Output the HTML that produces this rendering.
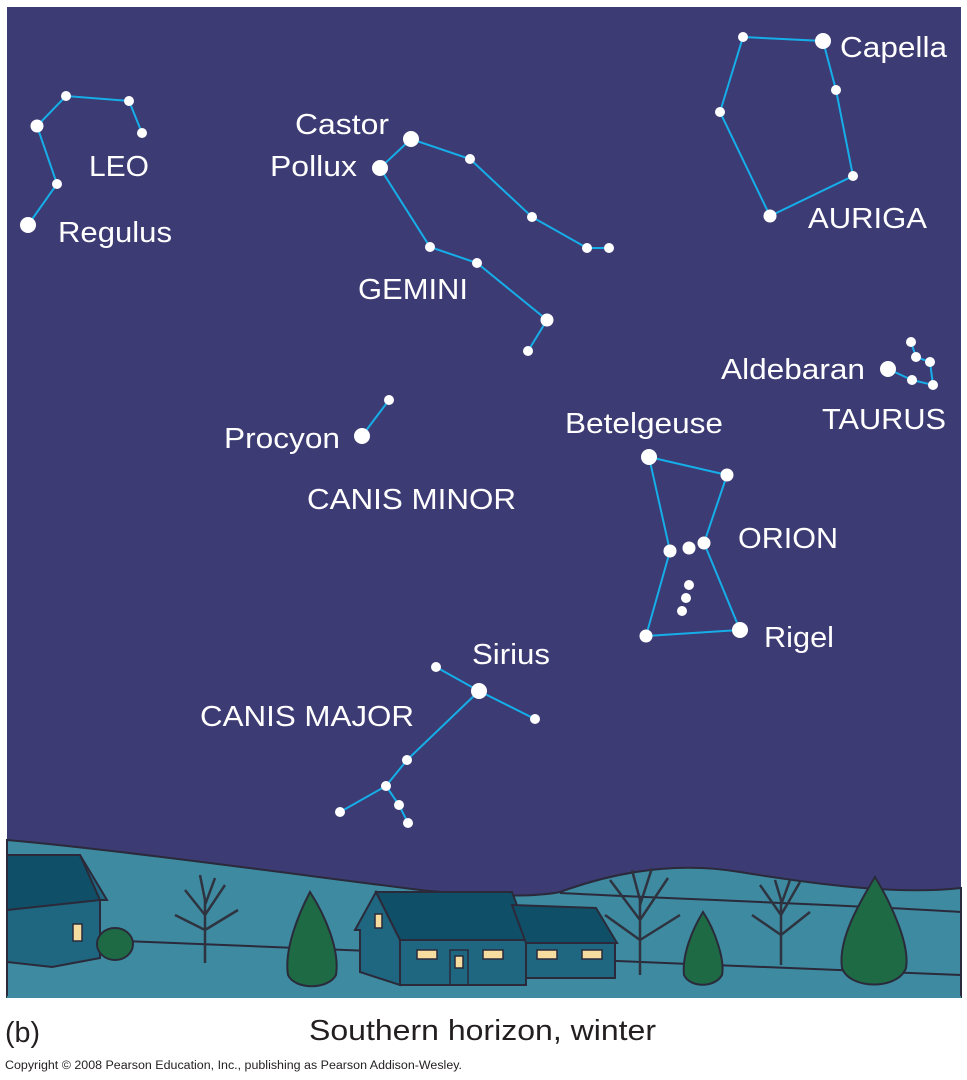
<!DOCTYPE html>
<html><head><meta charset="utf-8"><style>
html,body{margin:0;padding:0;background:#fff;}
svg{display:block;}
text{font-family:"Liberation Sans",Arial,sans-serif;}
</style></head><body>
<svg width="967" height="1080" viewBox="0 0 967 1080" xmlns="http://www.w3.org/2000/svg">
<rect x="0" y="0" width="967" height="1080" fill="#fff"/>
<rect x="7" y="7" width="954" height="990" fill="#3d3b73"/>
<!-- ground -->
<path d="M7,840 C120,850 300,875 420,890 C480,896 530,898 560,892 C620,870 680,862 740,872 C820,885 900,895 961,888 L961,997 L7,997 Z" fill="#3e8aa0" stroke="#2a2a3a" stroke-width="2"/>
<path d="M560,893 C700,900 850,905 961,912" fill="none" stroke="#2a2a3a" stroke-width="2"/>
<path d="M100,940 C300,948 500,955 961,975" fill="none" stroke="#2a2a3a" stroke-width="2"/>
<rect x="7" y="996" width="954" height="2" fill="#3e8aa0"/>
<!-- left house -->
<path d="M7,855 L80,855 L107,900 L100,900 L100,958 L52,967 L7,962 Z" fill="#1f6680" stroke="#2a2a3a" stroke-width="2"/>
<path d="M7,855 L80,855 L100,900 L7,910 Z" fill="#0f5068" stroke="#2a2a3a" stroke-width="2"/>
<rect x="73" y="924" width="9" height="17" fill="#f7dca0" stroke="#2a2a3a" stroke-width="1.5"/>
<ellipse cx="115" cy="944" rx="18" ry="16" fill="#1e6a45" stroke="#2a2a3a" stroke-width="2"/>
<!-- trees bare -->
<g stroke="#2f3340" stroke-width="2.5" fill="none">
<path d="M205,963 L205,900 M205,915 L185,890 M205,915 L225,885 M205,930 L175,915 M205,930 L238,910 M205,900 L200,875 M205,905 L215,878"/>
<path d="M640,975 L640,900 M640,920 L610,880 M640,920 L668,878 M640,940 L605,915 M640,940 L680,915 M640,900 L632,870 M640,905 L652,868"/>
<path d="M781,965 L781,900 M781,915 L760,885 M781,915 L800,882 M781,935 L752,915 M781,935 L810,912 M781,900 L775,880 M781,905 L790,880"/>
</g>
<!-- conifers -->
<g fill="#1e6a45" stroke="#2a2a3a" stroke-width="2">
<path d="M310,892 C325,915 340,950 336,975 C328,990 295,990 288,975 C284,950 298,915 310,892 Z"/>
<path d="M703,912 C715,930 725,960 722,975 C715,988 690,988 684,975 C682,955 692,930 703,912 Z"/>
<path d="M875,877 C892,905 910,945 906,968 C898,990 850,990 842,968 C838,940 858,905 875,877 Z"/>
</g>
<!-- center house -->
<path d="M376,892 L512,892 L530,940 L400,940 Z" fill="#0f5068" stroke="#2a2a3a" stroke-width="2"/>
<path d="M376,892 L355,930 L360,930 L360,972 L400,985 L400,940 Z" fill="#1f6680" stroke="#2a2a3a" stroke-width="2"/>
<rect x="400" y="940" width="126" height="45" fill="#1f6680" stroke="#2a2a3a" stroke-width="2"/>
<path d="M512,905 L596,908 L617,943 L526,943 Z" fill="#0f5068" stroke="#2a2a3a" stroke-width="2"/>
<rect x="526" y="943" width="89" height="35" fill="#1f6680" stroke="#2a2a3a" stroke-width="2"/>
<g fill="#f7dca0" stroke="#2a2a3a" stroke-width="1.5">
<rect x="375" y="914" width="7" height="14"/>
<rect x="417" y="950" width="20" height="9"/>
<rect x="483" y="950" width="20" height="9"/>
<rect x="537" y="950" width="20" height="9"/>
<rect x="582" y="950" width="20" height="9"/>
<rect x="455" y="956" width="8" height="12"/>
</g>
<rect x="450" y="950" width="18" height="35" fill="none" stroke="#2a2a3a" stroke-width="1.5"/>
<!-- constellation lines -->
<g stroke="#16aee8" stroke-width="2" fill="none">
<polyline points="142,133 129,101 66,96 37,126 57,184 28,225"/>
<polyline points="380,168 411,139 470,159 532,217 587,248 609,248"/>
<polyline points="380,168 430,247 477,263 547,320 528,351"/>
<polygon points="743,37 823,41 836,90 853,176 770,216 720,112"/>
<polyline points="888,369 912,380 933,385 930,362 916,357 911,342"/>
<line x1="362" y1="436" x2="389" y2="400"/>
<polyline points="727,475 649,457 670,551 646,636 740,630 704,543 727,475"/>
<polyline points="436,667 479,691 535,719"/>
<polyline points="479,691 407,760 386,786 340,812"/>
<polyline points="386,786 399,805 408,823"/>
</g>
<!-- stars -->
<g fill="#fff">
<circle cx="28" cy="225" r="8"/><circle cx="57" cy="184" r="5"/><circle cx="37" cy="126" r="6.5"/><circle cx="66" cy="96" r="5"/><circle cx="129" cy="101" r="5"/><circle cx="142" cy="133" r="5"/>
<circle cx="411" cy="139" r="8"/><circle cx="380" cy="168" r="8"/><circle cx="470" cy="159" r="5"/><circle cx="532" cy="217" r="5"/><circle cx="587" cy="248" r="5"/><circle cx="609" cy="248" r="5"/><circle cx="430" cy="247" r="5"/><circle cx="477" cy="263" r="5"/><circle cx="547" cy="320" r="6.5"/><circle cx="528" cy="351" r="5"/>
<circle cx="823" cy="41" r="8"/><circle cx="743" cy="37" r="5"/><circle cx="836" cy="90" r="5"/><circle cx="853" cy="176" r="5"/><circle cx="770" cy="216" r="6.5"/><circle cx="720" cy="112" r="5"/>
<circle cx="888" cy="369" r="8"/><circle cx="912" cy="380" r="5"/><circle cx="933" cy="385" r="5"/><circle cx="930" cy="362" r="5"/><circle cx="916" cy="357" r="5"/><circle cx="911" cy="342" r="5"/>
<circle cx="362" cy="436" r="8"/><circle cx="389" cy="400" r="5"/>
<circle cx="649" cy="457" r="8"/><circle cx="727" cy="475" r="6.5"/><circle cx="670" cy="551" r="6.5"/><circle cx="689" cy="548" r="6.5"/><circle cx="704" cy="543" r="6.5"/><circle cx="646" cy="636" r="6.5"/><circle cx="740" cy="630" r="8"/><circle cx="689" cy="585" r="5"/><circle cx="686" cy="598" r="5"/><circle cx="682" cy="611" r="5"/>
<circle cx="479" cy="691" r="8"/><circle cx="436" cy="667" r="5"/><circle cx="535" cy="719" r="5"/><circle cx="407" cy="760" r="5"/><circle cx="386" cy="786" r="5"/><circle cx="340" cy="812" r="5"/><circle cx="399" cy="805" r="5"/><circle cx="408" cy="823" r="5"/>
</g>
<!-- labels -->
<g fill="#fff" font-size="29" lengthAdjust="spacingAndGlyphs">
<text x="89" y="176" textLength="60" lengthAdjust="spacingAndGlyphs">LEO</text>
<text x="58" y="242" textLength="114" lengthAdjust="spacingAndGlyphs">Regulus</text>
<text x="295" y="134" textLength="94" lengthAdjust="spacingAndGlyphs">Castor</text>
<text x="270" y="176" textLength="87" lengthAdjust="spacingAndGlyphs">Pollux</text>
<text x="358" y="299" textLength="110" lengthAdjust="spacingAndGlyphs">GEMINI</text>
<text x="840" y="57" textLength="107" lengthAdjust="spacingAndGlyphs">Capella</text>
<text x="808" y="228" textLength="119" lengthAdjust="spacingAndGlyphs">AURIGA</text>
<text x="721" y="379" textLength="144" lengthAdjust="spacingAndGlyphs">Aldebaran</text>
<text x="822" y="429" textLength="124" lengthAdjust="spacingAndGlyphs">TAURUS</text>
<text x="565" y="433" textLength="158" lengthAdjust="spacingAndGlyphs">Betelgeuse</text>
<text x="224" y="448" textLength="116" lengthAdjust="spacingAndGlyphs">Procyon</text>
<text x="307" y="509" textLength="209" lengthAdjust="spacingAndGlyphs">CANIS MINOR</text>
<text x="738" y="548" textLength="100" lengthAdjust="spacingAndGlyphs">ORION</text>
<text x="764" y="647" textLength="70" lengthAdjust="spacingAndGlyphs">Rigel</text>
<text x="472" y="664" textLength="78" lengthAdjust="spacingAndGlyphs">Sirius</text>
<text x="200" y="726" textLength="214" lengthAdjust="spacingAndGlyphs">CANIS MAJOR</text>
</g>
<text x="5" y="1042" font-size="29" fill="#231f20" textLength="35" lengthAdjust="spacingAndGlyphs">(b)</text>
<text x="309" y="1040" font-size="29" fill="#231f20" textLength="347" lengthAdjust="spacingAndGlyphs">Southern horizon, winter</text>
<text x="5" y="1069" font-size="11.5" fill="#231f20" textLength="457" lengthAdjust="spacingAndGlyphs">Copyright © 2008 Pearson Education, Inc., publishing as Pearson Addison-Wesley.</text>
</svg>
</body></html>
